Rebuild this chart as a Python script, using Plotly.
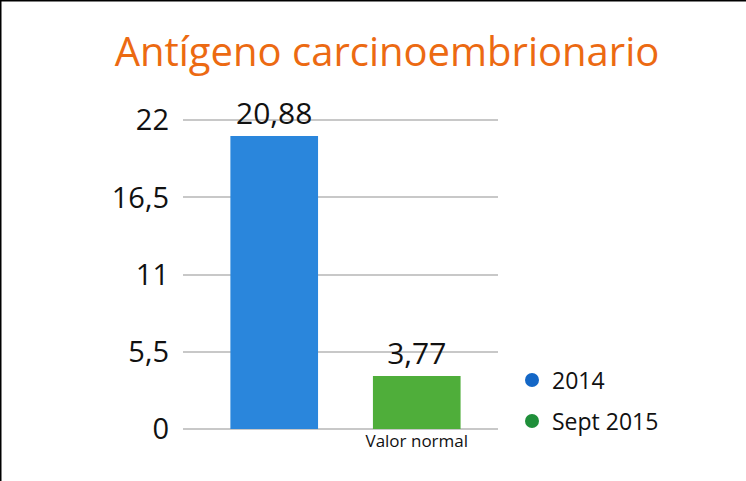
import plotly.graph_objects as go

# Chart data
categories = [" ", "Valor normal"]
series_names = ["2014", "Sept 2015"]
values = [20.88, 3.77]
y_ticks = [0, 5.5, 11, 16.5, 22]

bar_colors = ["#2A86DC", "#4FAE3A"]
legend_colors = ["#1467C6", "#1F8F3A"]

W, H = 746, 481
L, R, T, B = 183, 248, 116, 52
PW, PH = W - L - R, H - T - B

fig = go.Figure()

for cat, name, val, color in zip(categories, series_names, values, bar_colors):
    fig.add_trace(
        go.Bar(
            x=[cat],
            y=[val],
            name=name,
            marker_color=color,
            marker_line_width=0,
            width=0.615,
            text=[val],
            texttemplate="%{y:.2f}",
            textposition="outside",
            textfont=dict(size=30, color="#111111"),
            cliponaxis=False,
            showlegend=False,
        )
    )

# Legend entries drawn as circles, one legend box each so the spacing matches
legend_ids = ["legend", "legend2"]
for name, color, lid in zip(series_names, legend_colors, legend_ids):
    fig.add_trace(
        go.Scatter(
            x=[None],
            y=[None],
            mode="markers",
            name=name,
            legend=lid,
            marker=dict(color=color, size=14, symbol="circle"),
        )
    )

legend_style = dict(
    x=(512 - L) / PW,
    xanchor="left",
    yanchor="middle",
    font=dict(size=23),
    itemwidth=30,
    bgcolor="rgba(0,0,0,0)",
)

fig.update_layout(
    width=W,
    height=H,
    margin=dict(l=L, r=R, t=T, b=B),
    paper_bgcolor="white",
    plot_bgcolor="white",
    separators=",.",
    barmode="overlay",
    font=dict(family="Open Sans", color="#111111"),
    title=dict(
        text="Antígeno carcinoembrionario",
        font=dict(size=40, color="#EC6A12"),
        x=387 / W,
        xanchor="center",
        y=1 - 52 / H,
        yanchor="middle",
    ),
    legend=dict(legend_style, y=(H - B - 380) / PH),
    legend2=dict(legend_style, y=(H - B - 421) / PH),
    xaxis=dict(
        type="category",
        categoryorder="array",
        categoryarray=categories,
        range=[-0.64, 1.57],
        showgrid=False,
        showline=False,
        zeroline=False,
        tickfont=dict(size=17),
        ticks="",
    ),
    yaxis=dict(
        range=[0, 22.3],
        tickvals=y_ticks,
        tickformat=".1~f",
        showgrid=True,
        gridcolor="#C8C8C8",
        gridwidth=2,
        zeroline=True,
        zerolinecolor="#C8C8C8",
        zerolinewidth=2,
        showline=False,
        tickfont=dict(size=29),
        ticks="",
        ticklabelstandoff=13,
    ),
    shapes=[
        dict(type="line", xref="paper", yref="paper",
             x0=-L / PW, x1=-L / PW, y0=-B / PH, y1=1 + T / PH,
             line=dict(color="black", width=3)),
        dict(type="line", xref="paper", yref="paper",
             x0=-L / PW, x1=1 + R / PW, y0=1 + T / PH, y1=1 + T / PH,
             line=dict(color="black", width=3)),
    ],
)

fig.write_html(
    "out.html",
    config={"displayModeBar": False},
    post_script="document.body.style.margin='0';document.body.style.overflow='hidden';",
)
